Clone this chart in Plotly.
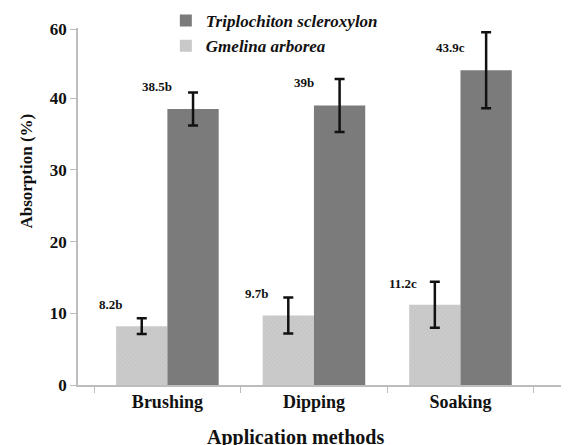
import plotly.graph_objects as go

methods = ["Brushing", "Dipping", "Soaking"]
gmelina = [8.2, 9.7, 11.2]
gmelina_err = [1.1, 2.5, 3.2]
gmelina_letters = ["b", "b", "c"]
triplo = [38.5, 39.0, 43.9]
triplo_err = [2.3, 3.7, 5.3]
triplo_letters = ["b", "b", "c"]
y_tickvals = [0, 10, 20, 30, 40, 49.65]
y_ticktext = ["0", "10", "20", "30", "40", "60"]

SERIF = "Liberation Serif"

fig = go.Figure()
fig.add_trace(go.Bar(
    x=methods, y=gmelina, name="Gmelina arborea",
    marker=dict(color="#c4c4c4", line=dict(width=0),
                pattern=dict(shape="x", size=3, solidity=0.25, fgcolor="#b0b0b0", bgcolor="#cbcbcb")),
    error_y=dict(type="data", array=gmelina_err, color="#111111", thickness=2.5, width=5),
))
fig.add_trace(go.Bar(
    x=methods, y=triplo, name="Triplochiton scleroxylon",
    marker=dict(color="#7b7b7b", line=dict(width=0)),
    error_y=dict(type="data", array=triplo_err, color="#111111", thickness=2.5, width=5),
))

annotations = []
for i, (v, l) in enumerate(zip(gmelina, gmelina_letters)):
    annotations.append(dict(x=i - 0.39, y=v + 3.0, xref="x", yref="y", text=f"{v:g}{l}",
                            showarrow=False,
                            font=dict(family=SERIF, size=13, color="#111", weight="bold"),
                            xanchor="center", yanchor="middle"))
for i, (v, l) in enumerate(zip(triplo, triplo_letters)):
    annotations.append(dict(x=i - 0.07, y=v + 3.2, xref="x", yref="y", text=f"{v:g}{l}",
                            showarrow=False,
                            font=dict(family=SERIF, size=13, color="#111", weight="bold"),
                            xanchor="center", yanchor="middle"))
annotations.append(dict(x=0.445, y=-0.108, xref="paper", yref="paper",
                        text="Application methods", showarrow=False,
                        font=dict(family=SERIF, size=20, color="#111", weight="bold"),
                        xanchor="center", yanchor="top"))
annotations.append(dict(x=-0.105, y=0.6, xref="paper", yref="paper",
                        text="Absorption (%)", showarrow=False, textangle=-90,
                        font=dict(family=SERIF, size=17, color="#111", weight="bold"),
                        xanchor="center", yanchor="middle"))

# page has an 8px body margin: compensate so the plot area sits at x 78..566, y 28..385
fig.update_layout(
    width=569, height=445,
    margin=dict(l=70, r=11, t=20, b=68, autoexpand=False),
    paper_bgcolor="white", plot_bgcolor="white",
    barmode="group", bargap=0.3, bargroupgap=0,
    showlegend=True,
    legend=dict(x=0.18, y=1.07, xanchor="left", yanchor="top", traceorder="reversed",
                bgcolor="rgba(0,0,0,0)", tracegroupgap=0,
                font=dict(family=SERIF, size=17, color="#111", weight="bold", style="italic"),
                itemwidth=30),
    font=dict(family=SERIF, color="#111"),
    annotations=annotations,
)

fig.update_xaxes(
    type="category", range=[-0.61, 2.72], showline=True, linecolor="#bdbdbd", linewidth=1.5,
    ticks="outside", tickson="boundaries", ticklen=6, tickcolor="#bdbdbd",
    tickfont=dict(family=SERIF, size=18, color="#111", weight="bold"),
    showgrid=False, zeroline=False,
)
fig.update_yaxes(
    range=[0, 49.8], tickvals=y_tickvals, ticktext=y_ticktext,
    showline=True, linecolor="#bdbdbd", linewidth=1.5, ticks="outside", ticklen=6,
    tickcolor="#bdbdbd", tickfont=dict(family=SERIF, size=17, color="#111", weight="bold"),
    showgrid=False, zeroline=False,
)

fig.write_html("out.html")
